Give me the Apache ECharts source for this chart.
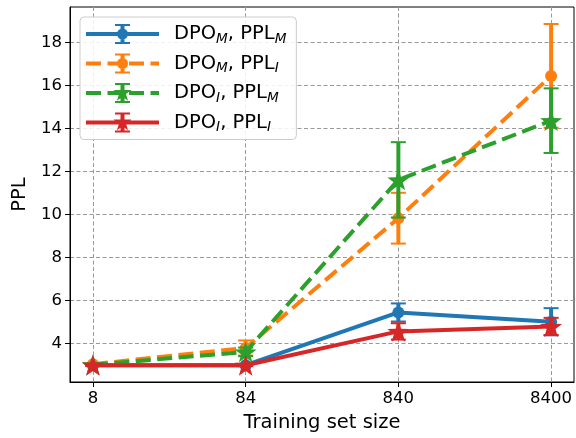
<!DOCTYPE html>
<html>
<head>
<meta charset="utf-8">
<script src="https://cdn.jsdelivr.net/npm/echarts@6/dist/echarts.min.js"></script>
<style>
html,body{margin:0;padding:0;background:#fff;}
#main{width:576px;height:438px;}
</style>
</head>
<body>
<div id="main"></div>
<script>
// ---- data ----
var categories = ['8', '84', '840', '8400'];
var yTicks = [4, 6, 8, 10, 12, 14, 16, 18];

var seriesNames = ['DPO_M, PPL_M', 'DPO_M, PPL_I', 'DPO_I, PPL_M', 'DPO_I, PPL_I'];
var legendLabels = ['DPO{s|M}, PPL{s|M}', 'DPO{s|M}, PPL{s|I}', 'DPO{s|I}, PPL{s|M}', 'DPO{s|I}, PPL{s|I}'];

var blueVals   = [3.00, 3.00, 5.45, 5.02];
var blueErr    = [0.04, 0.04, 0.42, 0.63];
var orangeVals = [3.05, 3.80, 9.83, 16.44];
var orangeErr  = [0.04, 0.35, 1.18, 2.41];
var greenVals  = [3.02, 3.62, 11.61, 14.36];
var greenErr   = [0.04, 0.20, 1.75, 1.50];
var redVals    = [3.00, 3.00, 4.57, 4.80];
var redErr     = [0.04, 0.04, 0.38, 0.40];

var colors = ['#1f77b4', '#ff7f0e', '#2ca02c', '#d62728'];
var STAR = 'path://M0,-10L2.35,-3.24L9.51,-3.09L3.8,1.24L5.88,8.09L0,4L-5.88,8.09L-3.8,1.24L-9.51,-3.09L-2.35,-3.24Z';

var defs = [
  {vals: blueVals,   err: blueErr,   dashed: false, star: false},
  {vals: orangeVals, err: orangeErr, dashed: true,  star: false},
  {vals: greenVals,  err: greenErr,  dashed: true,  star: true},
  {vals: redVals,    err: redErr,    dashed: false, star: true}
];

// legend icon: line sample + error bar + marker, drawn as one filled path
function rect(x1, y1, x2, y2) { return 'M' + x1 + ',' + y1 + 'H' + x2 + 'V' + y2 + 'H' + x1 + 'Z'; }
function legendIcon(d) {
  var W = 73, cx = 36.5, cy = 11, p = '';
  if (d.dashed) {
    for (var x = 0; x < W; x += 21.5) p += rect(x, 9, Math.min(x + 15, W), 13);
  } else {
    p += rect(0, 9, W, 13);
  }
  p += rect(cx - 2, 1, cx + 2, 21);
  p += rect(cx - 7.5, 1, cx + 7.5, 3);
  p += rect(cx - 7.5, 19, cx + 7.5, 21);
  if (d.star) {
    var R = 9.5, pts = [];
    for (var k = 0; k < 10; k++) {
      var a = (-90 + 36 * k) * Math.PI / 180, r = k % 2 === 0 ? R : R * 0.382;
      pts.push((cx + r * Math.cos(a)).toFixed(2) + ',' + (cy + r * Math.sin(a)).toFixed(2));
    }
    p += 'M' + pts.join('L') + 'Z';
  } else {
    var rr = 5.5;
    p += 'M' + (cx - rr) + ',' + cy + 'A' + rr + ',' + rr + ' 0 1 1 ' + (cx + rr) + ',' + cy +
         'A' + rr + ',' + rr + ' 0 1 1 ' + (cx - rr) + ',' + cy + 'Z';
  }
  return 'path://' + p;
}

var series = [];
defs.forEach(function (d, i) {
  var color = colors[i];
  var errData = d.vals.map(function (v, k) { return [k, v - d.err[k], v + d.err[k]]; });
  series.push({
    type: 'custom',
    silent: true,
    z: 2 + 2 * i,
    data: errData,
    encode: {x: 0, y: [1, 2]},
    renderItem: function (params, api) {
      var x = api.value(0);
      var top = api.coord([x, api.value(2)]);
      var bot = api.coord([x, api.value(1)]);
      var cw = 7.5;
      return {
        type: 'group',
        children: [
          {type: 'line', shape: {x1: top[0], y1: top[1], x2: bot[0], y2: bot[1]}, style: {stroke: color, lineWidth: 4}},
          {type: 'line', shape: {x1: top[0] - cw, y1: top[1], x2: top[0] + cw, y2: top[1]}, style: {stroke: color, lineWidth: 2}},
          {type: 'line', shape: {x1: bot[0] - cw, y1: bot[1], x2: bot[0] + cw, y2: bot[1]}, style: {stroke: color, lineWidth: 2}}
        ]
      };
    }
  });
  series.push({
    type: 'line',
    name: seriesNames[i],
    z: 3 + 2 * i,
    data: d.vals.map(function (v, k) { return [k, v]; }),
    symbol: d.star ? STAR : 'circle',
    symbolSize: d.star ? 22 : 12,
    symbolKeepAspect: true,
    showAllSymbol: true,
    lineStyle: {color: color, width: 4, type: d.dashed ? [15, 6.5] : 'solid', cap: 'butt'},
    itemStyle: {color: color, borderWidth: 0},
    emphasis: {disabled: true}
  });
});

var chart = echarts.init(document.getElementById('main'), null, {renderer: 'canvas'});
chart.setOption({
  animation: false,
  backgroundColor: '#fff',
  textStyle: {fontFamily: 'DejaVu Sans'},
  grid: {left: 70, top: 7, right: 2, bottom: 56, show: true, borderColor: '#000', borderWidth: 1, backgroundColor: 'transparent'},
  legend: {
    data: seriesNames.map(function (n, i) { return {name: n, icon: legendIcon(defs[i])}; }),
    orient: 'vertical',
    left: 80, top: 17,
    itemWidth: 73, itemHeight: 22, itemGap: 5.5,
    symbolKeepAspect: true,
    padding: [5, 10, 5, 6],
    backgroundColor: 'rgba(255,255,255,0.85)',
    borderColor: '#cccccc', borderWidth: 1, borderRadius: 4,
    selectedMode: false,
    formatter: function (name) { return legendLabels[seriesNames.indexOf(name)]; },
    textStyle: {
      fontFamily: 'DejaVu Sans', fontSize: 19.5, color: '#000', lineHeight: 24,
      padding: [0, 0, 0, 10],
      rich: {s: {fontFamily: 'DejaVu Sans', fontSize: 13.6, fontStyle: 'italic', color: '#000', verticalAlign: 'bottom', lineHeight: 14}}
    }
  },
  xAxis: {
    type: 'value', min: -0.15, max: 3.15,
    name: 'Training set size', nameLocation: 'middle', nameGap: 31,
    nameTextStyle: {fontFamily: 'DejaVu Sans', fontSize: 19.5, color: '#000'},
    axisLine: {show: true, onZero: false, lineStyle: {color: '#000', width: 1}},
    axisTick: {show: true, length: 5, customValues: [0, 1, 2, 3], lineStyle: {color: '#000'}},
    axisLabel: {customValues: [0, 1, 2, 3], margin: 8, fontSize: 16.5, color: '#000', fontFamily: 'DejaVu Sans',
      formatter: function (v) { return categories[Math.round(v)]; }},
    splitLine: {show: true, lineStyle: {color: '#999', type: [4, 2.5], width: 1}}
  },
  yAxis: {
    type: 'value', min: 2.22, max: 19.64,
    name: 'PPL', nameLocation: 'middle', nameGap: 34, nameRotate: 90,
    nameTextStyle: {fontFamily: 'DejaVu Sans', fontSize: 19.5, color: '#000'},
    axisLine: {show: true, onZero: false, lineStyle: {color: '#000', width: 1}},
    axisTick: {show: true, length: 5, customValues: yTicks, lineStyle: {color: '#000'}},
    axisLabel: {customValues: yTicks, margin: 8, fontSize: 16.5, color: '#000', fontFamily: 'DejaVu Sans'},
    splitLine: {show: true, lineStyle: {color: '#999', type: [4, 2.5], width: 1}}
  },
  series: series
});
</script>
</body>
</html>
